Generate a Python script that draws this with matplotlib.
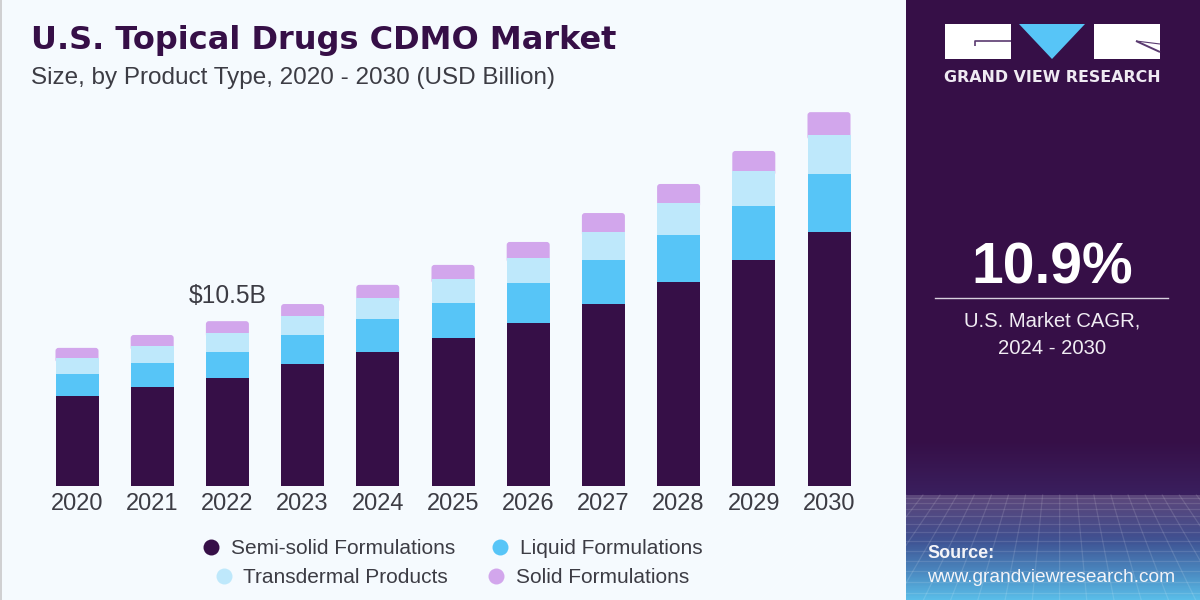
import numpy as np
import matplotlib
matplotlib.use("Agg")
import matplotlib.pyplot as plt
from matplotlib.colors import LinearSegmentedColormap
from matplotlib.patches import FancyBboxPatch, Polygon, Rectangle

years = ["2020", "2021", "2022", "2023", "2024", "2025", "2026", "2027", "2028", "2029", "2030"]
semi_solid = [5.73, 6.30, 6.87, 7.76, 8.53, 9.42, 10.37, 11.58, 12.98, 14.38, 16.16]
liquid = [1.40, 1.53, 1.65, 1.85, 2.10, 2.23, 2.55, 2.80, 2.99, 3.44, 3.69]
transdermal = [1.02, 1.08, 1.21, 1.21, 1.34, 1.53, 1.59, 1.78, 2.04, 2.23, 2.48]
solid = [0.64, 0.70, 0.76, 0.76, 0.83, 0.89, 1.02, 1.21, 1.21, 1.27, 1.46]

NAVY = "#360F47"
BLUE = "#57C5F7"
LIGHT = "#BEE8FB"
PURPLE = "#D2A6EC"
TEXT = "#3C3C44"

W, H = 1200, 600
plt.rcParams["font.family"] = ["Liberation Sans", "DejaVu Sans"]
fig = plt.figure(figsize=(12, 6), dpi=100, facecolor="#F5FAFE")

# background layer in pixel coords, y pointing down
bg = fig.add_axes([0, 0, 1, 1])
bg.axis("off")
bg.add_patch(Rectangle((0, 0), 2, H, color="#D0D0D2", lw=0))
bg.add_patch(Rectangle((906, 0), 294, H, color=NAVY, lw=0))

# side panel gradient
grad = LinearSegmentedColormap.from_list(
    "panel", [(0, NAVY), (0.34, "#3A1F5E"), (0.60, "#3D4A8C"), (0.82, "#4A86BE"), (1, "#5ABDE8")])
bg.imshow(np.linspace(0, 1, 160).reshape(-1, 1), extent=(906, 1200, 600, 440),
          cmap=grad, aspect="auto", zorder=1)

# horizon glow
glow = np.zeros((50, 1, 4))
glow[:, 0, :3] = 1
glow[:, 0, 3] = np.linspace(0.18, 0, 50)
bg.imshow(glow, extent=(906, 1200, 545, 495), aspect="auto", zorder=2)

# mesh floor
for xb in np.linspace(500, 1650, 38):
    x0 = 1060 + (xb - 1060) * 0.55
    bg.plot([x0, xb], [495, 640], color="white", alpha=0.12, lw=0.9, zorder=3)
for t in np.linspace(0.08, 1, 13):
    y = 495 + 110 * t ** 1.4
    bg.plot([906, 1200], [y, y], color="white", alpha=0.12, lw=0.9, zorder=3)

# logo
bg.add_patch(Rectangle((945, 24), 66, 35, color="white", lw=0, zorder=4))
bg.add_patch(Polygon([(1019, 24), (1085, 24), (1052, 59)], color=BLUE, lw=0, zorder=4))
bg.add_patch(Rectangle((1094, 24), 66, 35, color="white", lw=0, zorder=4))
bg.plot([975, 975, 1011], [46, 41, 41], color="#5A3A70", lw=1.2, zorder=5, solid_capstyle="butt")
bg.plot([1136, 1160], [41, 52], color="#5A3A70", lw=1.4, zorder=5, solid_capstyle="butt")
bg.plot([1136, 1160], [41, 44], color="#5A3A70", lw=0.8, zorder=5, solid_capstyle="butt")
bg.set_xlim(0, W)
bg.set_ylim(H, 0)

# bars
ax = fig.add_axes([40 / W, 1 - 486 / H, 826 / W, 386 / H])
ax.patch.set_alpha(0)
x = np.arange(len(years))
k = 75.2  # px per category
ax.set_xlim((40 - 77) / k, (866 - 77) / k)
y_top = 386 * 10.5 / 165
ax.set_ylim(0, y_top)
bar_w = 43 / k
semi = np.array(semi_solid)
liq = np.array(liquid)
trans = np.array(transdermal)
sol = np.array(solid)
ax.bar(x, semi, bar_w, color=NAVY, zorder=3)
ax.bar(x, liq, bar_w, bottom=semi, color=BLUE, zorder=3)
ax.bar(x, trans, bar_w, bottom=semi + liq, color=LIGHT, zorder=3)
# top segment has small rounded corners, its foot is hidden under the bar below
base = semi + liq + trans
aspect = (165 / 10.5) / k
for xi, b, h in zip(x, base, sol):
    ax.add_patch(FancyBboxPatch((xi - bar_w / 2, b - 0.3), bar_w, h + 0.3,
                                boxstyle="round,pad=0,rounding_size=0.04",
                                mutation_aspect=1 / aspect, fc=PURPLE, ec="none", zorder=2))
ax.set_xticks(x, years)
ax.tick_params(axis="x", length=0, pad=5, labelsize=17, labelcolor=TEXT)
ax.set_yticks([])
for s in ax.spines.values():
    s.set_visible(False)
ax.text(2, base[2] + sol[2] + 1.6, "$10.5B", ha="center", va="center", fontsize=17.7, color=TEXT)

# header
bg.text(31, 40, "U.S. Topical Drugs CDMO Market", fontsize=23, fontweight="bold", color=NAVY,
        family="DejaVu Sans", va="center", zorder=6)
bg.text(31, 78, "Size, by Product Type, 2020 - 2030 (USD Billion)", fontsize=17.5, color=TEXT,
        va="center", zorder=6)

# legend
legend_rows = [
    (211, 231, 547, NAVY, "Semi-solid Formulations"),
    (500, 520, 547, BLUE, "Liquid Formulations"),
    (224, 243, 576, LIGHT, "Transdermal Products"),
    (496, 516, 576, PURPLE, "Solid Formulations"),
]
for mx, tx, my, col, lab in legend_rows:
    bg.plot([mx], [my], "o", ms=11.5, color=col, mew=0, zorder=6)
    bg.text(tx, my + 1.5, lab, fontsize=15, color=TEXT, va="center", zorder=6)

# side panel text
bg.text(1052.5, 78, "GRAND VIEW RESEARCH", fontsize=11.4, fontweight="bold", color="#EFEAF2",
        family="DejaVu Sans", ha="center", va="center", zorder=6)
bg.text(1052.5, 269, "10.9%", fontsize=41, fontweight="bold", color="white", ha="center", va="center", zorder=6)
bg.plot([935, 1168], [298, 298], color="#D8D0DE", lw=1, zorder=6)
bg.text(1052.5, 321, "U.S. Market CAGR,", fontsize=14.6, color="#F0ECF3", ha="center", va="center", zorder=6)
bg.text(1052.5, 348, "2024 - 2030", fontsize=14.6, color="#F0ECF3", ha="center", va="center", zorder=6)
bg.text(927, 554, "Source:", fontsize=13, fontweight="bold", color="#F4F4F8", va="center", zorder=6)
bg.text(927, 577, "www.grandviewresearch.com", fontsize=13.8, color="#F4F4F8", va="center", zorder=6)

fig.savefig("out.png", dpi=100, facecolor=fig.get_facecolor())
